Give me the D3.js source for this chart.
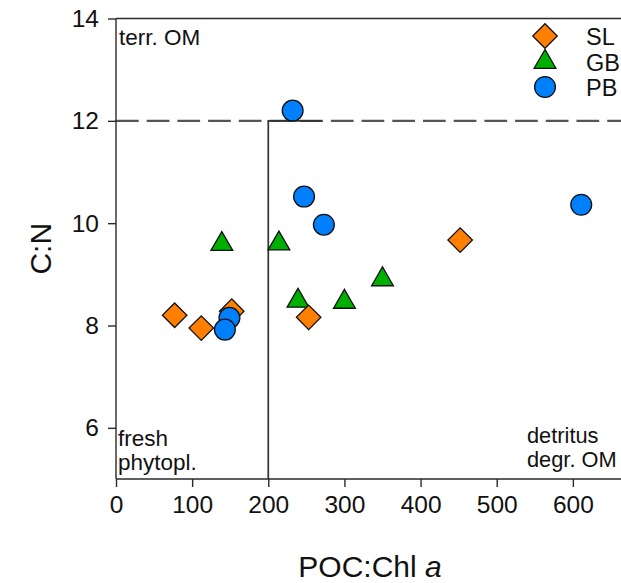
<!DOCTYPE html>
<html>
<head>
<meta charset="utf-8">
<script src="https://cdn.jsdelivr.net/npm/d3@7"></script>
<style>
  html, body { margin: 0; padding: 0; background: #fff; }
  svg { display: block; font-family: "Liberation Sans", Arial, sans-serif; }
</style>
</head>
<body>
<svg id="chart" width="621" height="583"></svg>
<script>
// POC:Chl a versus C:N, by site
const slX = [77, 112, 152, 253, 452];
const slY = [8.2, 7.95, 8.28, 8.16, 9.67];
const gbX = [139, 214, 239, 300, 350];
const gbY = [9.59, 9.6, 8.48, 8.46, 8.9];
const pbX = [232, 247, 273, 611, 149, 143];
const pbY = [12.2, 10.52, 9.97, 10.36, 8.15, 7.92];

const xTicks = [0, 100, 200, 300, 400, 500, 600];
const yTicks = [6, 8, 10, 12, 14];
const seriesNames = ["SL", "GB", "PB"];

const xDomain = [0, 700];
const yDomain = [5, 14];
const chlThreshold = 200;   // boundary for fresh phytoplankton
const cnThreshold = 12;     // boundary for terrestrial OM

const svg = d3.select("#chart");
const x = d3.scaleLinear().domain(xDomain).range([116, 649]);
const y = d3.scaleLinear().domain(yDomain).range([479, 18.5]);

const axisColor = "#2a2a2a";

// frame top and right edges
svg.append("path")
  .attr("d", `M${x(0)},${y(14)}H${x(700)}V${y(5)}`)
  .attr("fill", "none").attr("stroke", axisColor).attr("stroke-width", 1.4);

// dashed C:N threshold
svg.append("line")
  .attr("x1", x(0)).attr("x2", x(700))
  .attr("y1", y(cnThreshold)).attr("y2", y(cnThreshold))
  .attr("stroke", "#555").attr("stroke-width", 2.2)
  .attr("stroke-dasharray", "22.7,8");

// solid boundary at POC:Chl a = 200
svg.append("path")
  .attr("d", `M${x(chlThreshold)},${y(5)}V${y(cnThreshold)}H${x(270)}`)
  .attr("fill", "none").attr("stroke", "#333").attr("stroke-width", 1.7);

// axes
const xAxis = d3.axisBottom(x).tickValues(xTicks).tickSize(8).tickPadding(9);
const yAxis = d3.axisLeft(y).tickValues(yTicks).tickSize(8).tickPadding(9);

const gx = svg.append("g").attr("transform", `translate(0,${y(5)})`).call(xAxis);
const gy = svg.append("g").attr("transform", `translate(${x(0)},0)`).call(yAxis);
[gx, gy].forEach(g => {
  g.select(".domain").attr("stroke", axisColor).attr("stroke-width", 1.4);
  g.selectAll(".tick line").attr("stroke", axisColor).attr("stroke-width", 1.4);
  g.selectAll(".tick text").attr("fill", "#111")
    .style("font-family", "'Liberation Sans', Arial, sans-serif")
    .style("font-size", "24.5px");
});
gx.select(".domain").attr("d", `M${x(0)},0H${x(700)}`);
gy.select(".domain").attr("d", `M0,${y(5)}V${y(14)}`);

// axis titles
svg.append("text")
  .attr("transform", `translate(51,${y(9.5)}) rotate(-90)`)
  .attr("text-anchor", "middle")
  .style("font-size", "30px").attr("fill", "#111")
  .text("C:N");

const xt = svg.append("text")
  .attr("x", 370).attr("y", 577)
  .attr("text-anchor", "middle")
  .style("font-size", "30px").attr("fill", "#111");
xt.append("tspan").text("POC:Chl ");
xt.append("tspan").style("font-style", "italic").text("a");

// region annotations
const note = (lines, px, py, size) => {
  const t = svg.append("text").style("font-size", size + "px").attr("fill", "#111");
  lines.forEach((s, i) => t.append("tspan").attr("x", px).attr("y", py + i * 24).text(s));
};
note(["terr. OM"], 119, 45, 22.5);
note(["fresh", "phytopl."], 118, 446, 22.5);
note(["detritus", "degr. OM"], 527, 443, 21.8);

// symbols
const shapes = {
  SL: { gen: d3.symbol(d3.symbolSquare, 300), rot: 45, fill: "#ff8000" },
  GB: { gen: d3.symbol(d3.symbolTriangle, 205), rot: 0, fill: "#00b000" },
  PB: { gen: d3.symbol(d3.symbolCircle, 340), rot: 0, fill: "#0080ff" }
};

const drawSeries = (name, xs, ys) => {
  const s = shapes[name];
  svg.append("g").selectAll("path")
    .data(xs.map((v, i) => [v, ys[i]]))
    .join("path")
    .attr("d", s.gen())
    .attr("transform", d => `translate(${x(d[0])},${y(d[1])}) rotate(${s.rot})`)
    .attr("fill", s.fill)
    .attr("stroke", "#111").attr("stroke-width", 1.3);
};
drawSeries("GB", gbX, gbY);
drawSeries("SL", slX, slY);
drawSeries("PB", pbX, pbY);

// legend
const legend = svg.append("g");
const legendY = [36, 62, 87];
seriesNames.forEach((name, i) => {
  const s = shapes[name];
  legend.append("path")
    .attr("d", s.gen())
    .attr("transform", `translate(545,${legendY[i]}) rotate(${s.rot})`)
    .attr("fill", s.fill).attr("stroke", "#111").attr("stroke-width", 1.3);
  legend.append("text")
    .attr("x", 586).attr("y", legendY[i] + 8.5)
    .style("font-size", "23.5px").attr("fill", "#111")
    .text(name);
});
</script>
</body>
</html>
